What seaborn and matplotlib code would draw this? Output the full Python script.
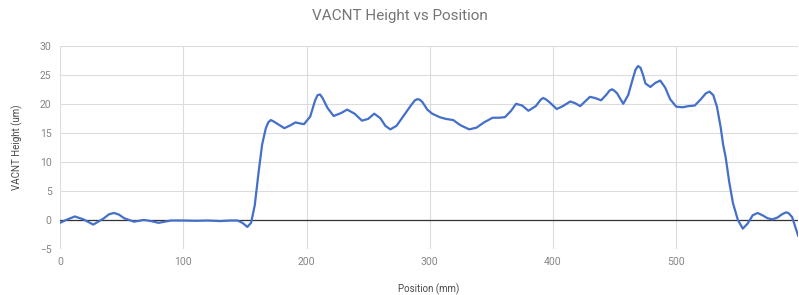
import pandas as pd
import matplotlib
matplotlib.use("Agg")
import matplotlib.pyplot as plt
import seaborn as sns

position_mm = [0, 5, 12, 19, 27, 35, 40, 44, 48, 52, 60, 68, 74, 80, 90, 100, 110, 120, 130, 138,
               144, 148, 152, 155, 158, 161, 164, 167, 169, 171, 173, 176, 182, 187, 191, 195, 198,
               203, 207, 209, 211, 213, 217, 222, 228, 233, 239, 245, 250, 255, 260, 264, 268, 273,
               279, 285, 288, 290, 292, 294, 298, 302, 308, 313, 319, 325, 332, 338, 344, 351, 356,
               361, 366, 370, 375, 380, 386, 390, 392, 394, 397, 403, 408, 414, 418, 422, 426, 430,
               434, 439, 443, 446, 448, 450, 452, 457, 461, 465, 467, 469, 471, 473, 475, 479, 483,
               487, 491, 495, 500, 505, 510, 515, 520, 524, 527, 530, 533, 536, 538, 540, 543, 546,
               550, 554, 558, 562, 566, 570, 574, 578, 582, 586, 589, 591, 594, 597, 599]
height_um = [-0.5, 0.0, 0.6, 0.1, -0.8, 0.2, 1.0, 1.2, 0.9, 0.3, -0.3, 0.0, -0.2, -0.5, -0.1, -0.1,
             -0.15, -0.1, -0.2, -0.1, -0.1, -0.5, -1.2, -0.5, 2.5, 8.0, 13.0, 15.8, 16.8, 17.2,
             17.0, 16.6, 15.8, 16.3, 16.8, 16.6, 16.5, 17.8, 20.6, 21.5, 21.6, 21.0, 19.3, 17.9,
             18.4, 19.0, 18.3, 17.1, 17.4, 18.3, 17.5, 16.2, 15.6, 16.2, 18.0, 19.8, 20.6, 20.8,
             20.7, 20.3, 19.0, 18.3, 17.7, 17.4, 17.2, 16.3, 15.6, 15.9, 16.8, 17.6, 17.6, 17.7,
             18.8, 20.0, 19.7, 18.8, 19.6, 20.7, 21.0, 20.8, 20.3, 19.1, 19.6, 20.4, 20.1, 19.6,
             20.4, 21.2, 21.0, 20.6, 21.5, 22.3, 22.5, 22.2, 21.8, 20.0, 21.5, 24.5, 25.9, 26.5,
             26.2, 25.0, 23.5, 22.9, 23.6, 24.0, 22.8, 20.8, 19.5, 19.4, 19.6, 19.7, 20.8, 21.8,
             22.1, 21.5, 19.5, 16.0, 13.0, 10.9, 6.5, 2.9, 0.0, -1.5, -0.6, 0.8, 1.2, 0.8, 0.3,
             0.1, 0.4, 1.0, 1.3, 1.2, 0.5, -1.5, -2.8]

x_ticks = [0, 100, 200, 300, 400, 500]
y_ticks = [-5, 0, 5, 10, 15, 20, 25, 30]

df = pd.DataFrame({"Position (mm)": position_mm, "VACNT Height (um)": height_um})

sns.set_style("whitegrid")
plt.rcParams['font.family'] = ['Roboto', 'DejaVu Sans']

fig = plt.figure(figsize=(7.99, 2.95), dpi=100)
ax = fig.add_axes([0.0751, 0.156, 0.924, 0.689])

ax.axhline(0, color="#333333", lw=0.9, zorder=1)
sns.lineplot(data=df, x="Position (mm)", y="VACNT Height (um)", ax=ax,
             color="#4470c9", lw=1.6, zorder=3, solid_joinstyle="round", solid_capstyle="round")

ax.set_xlim(0, 599)
ax.set_ylim(-5, 30)
ax.set_xticks(x_ticks)
ax.set_yticks(y_ticks)
ax.grid(True, color="#dcdcdc", lw=0.8)
for s in ax.spines.values():
    s.set_visible(False)
ax.tick_params(axis="both", length=0, labelsize=7.5, colors="#858585", pad=6)

ax.set_xlabel("Position (mm)", fontsize=7, color="#4a4a4a", labelpad=12)
ax.set_ylabel("VACNT Height (um)", fontsize=7, color="#4a4a4a", labelpad=12)
fig.suptitle("VACNT Height vs Position", x=0.5, y=0.97, fontsize=11, color="#757575")

fig.savefig("out.png", dpi=100)
